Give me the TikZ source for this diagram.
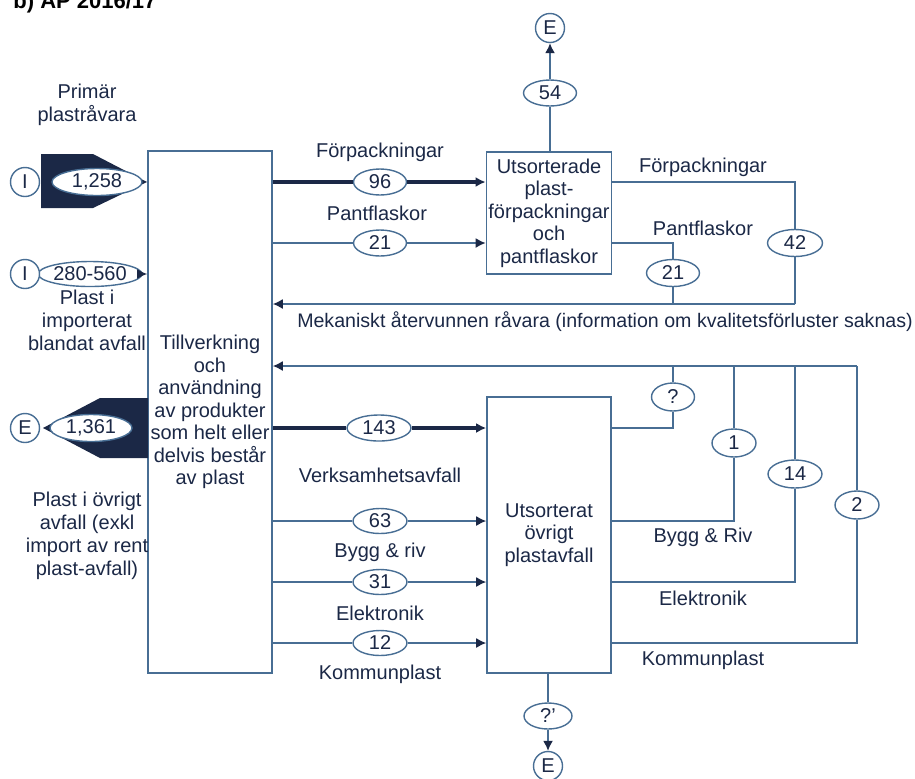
\documentclass[tikz,border=0pt]{standalone}
\usepackage{fontspec}
\setmainfont{Liberation Sans}
\usetikzlibrary{positioning,arrows.meta,calc,shapes.geometric}

\definecolor{navy}{RGB}{27,40,70}
\definecolor{steel}{RGB}{72,110,148}

\tikzset{
  box/.style={draw=steel,line width=0.8pt,minimum width=62pt,align=center,text=navy,
    inner sep=1pt,font=\fontsize{10}{11.25}\selectfont},
  val/.style={ellipse,draw=steel,line width=0.7pt,fill=white,inner sep=0pt,
    minimum height=13pt,minimum width=27pt,text=navy},
  term/.style={circle,draw=steel,line width=0.7pt,fill=white,inner sep=0pt,
    minimum size=14.5pt,text=navy},
  lbl/.style={text=navy,align=center,inner sep=0pt},
  flow/.style={draw=steel,line width=0.75pt},
  heavy/.style={draw=navy,line width=1.8pt},
  tip/.style={-{Latex[length=5pt,width=5pt,color=navy]}},
}

\begin{document}
\begin{tikzpicture}[x=0.5pt,y=-0.5pt,font=\fontsize{10}{11.5}\selectfont]
  \useasboundingbox (0,0) rectangle (915,778);
  \node[anchor=base west,inner sep=0pt,font=\bfseries\fontsize{11}{13}\selectfont] (title) at (13,8) {b) AP 2016/17};

  % processes
  \node[box,minimum height=261pt] (prod) at (210,412)
    {Tillverkning\\och\\användning\\av produkter\\som helt eller\\delvis består\\av plast};
  \node[box,minimum height=61pt] (pack) at (549,213)
    {Utsorterade\\plast-\\förpackningar\\och\\pantflaskor};
  \node[box,minimum height=138pt] (other) at (549,535)
    {Utsorterat\\övrigt\\plastavfall};

  % import and export on the left
  \fill[navy] (41,154) -- (93,154) -- (147,182) -- (93,208) -- (41,208) -- cycle;
  \node[val,minimum width=45pt,minimum height=13.5pt] (in1) at (97,182) {1,258};
  \node[term] (src1) at (25,182) {I};
  \node[lbl] (primlbl) at (87,105) {Primär\\plastråvara};

  \node[val,minimum width=50pt,minimum height=12.5pt] (in2) at (90,274) {280-560};
  \node[term] (src2) at (25,274) {I};
  \draw[flow,tip] (in2.east) -- (prod.west |- in2);
  \node[lbl] (implbl) at (87,320) {Plast i\\importerat\\blandat avfall};

  \fill[navy] (148,398) -- (100,398) -- (43,428) -- (100,458) -- (148,458) -- cycle;
  \node[val,minimum width=41pt,minimum height=13.5pt] (out1) at (91,428) {1,361};
  \node[term] (exp0) at (25,428) {E};
  \node[lbl] (explbl) at (87,536) {Plast i övrigt\\avfall (exkl\\import av rent\\plast-avfall)};

  % packaging flows
  \node[val,minimum width=26.5pt] (f96) at (380,182) {96};
  \node[lbl] at (380,152) {Förpackningar};
  \draw[heavy] (prod.east |- f96) -- (f96.west);
  \draw[heavy,tip] (f96.east) -- (pack.west |- f96);
  \node[val,minimum width=26.5pt] (f21) at (380,243) {21};
  \node[lbl] at (377,213) {Pantflaskor};
  \draw[flow] (prod.east |- f21) -- (f21.west);
  \draw[flow,tip] (f21.east) -- (pack.west |- f21);

  \node[val,minimum width=26.5pt] (f54) at (550,93) {54};
  \node[term] (exp1) at (550,28) {E};
  \draw[flow] (f54 |- pack.north) -- (f54.south);
  \draw[flow,tip] (f54.north) -- (exp1.south);

  % recycled packaging back to production
  \coordinate (mek) at (795,304);
  \node[val,minimum width=27.5pt,minimum height=13.5pt] (r42) at (795,243) {42};
  \node[val,minimum width=26.5pt,minimum height=13.5pt] (r21) at (673,273) {21};
  \draw[flow] (pack.east |- f96) -- (r42 |- f96) -- (r42.north);
  \draw[flow] (r42.south) -- (mek);
  \draw[flow] (pack.east |- f21) -- (r21 |- f21) -- (r21.north);
  \draw[flow] (r21.south) -- (r21 |- mek);
  \draw[flow,tip] (mek) -- (prod.east |- mek);
  \node[lbl] at (703,167) {Förpackningar};
  \node[lbl] at (703,228) {Pantflaskor};
  \node[lbl,font=\fontsize{9.8}{11.5}\selectfont] (meklbl) at (605,322)
    {Mekaniskt återvunnen råvara (information om kvalitetsförluster saknas)};

  % other plastic waste
  \node[val,minimum width=32pt] (f143) at (379,428) {143};
  \node[lbl] at (380,475) {Verksamhetsavfall};
  \draw[heavy] (prod.east |- f143) -- (f143.west);
  \draw[heavy,tip] (f143.east) -- (other.west |- f143);
  \foreach \y/\v/\t [count=\i] in {521/63/Bygg \& riv,582/31/Elektronik,643/12/Kommunplast}{
    \node[val,minimum height=12.5pt] (w\i) at (380,\y) {\v};
    \node[lbl] at (380,\y+31) {\t};
    \draw[flow] (prod.east |- w\i) -- (w\i.west);
    \draw[flow,tip] (w\i.east) -- (other.west |- w\i);
  }

  % recycled other plastic back to production
  \coordinate (ret) at (857,366);
  \draw[flow,tip] (ret) -- (prod.east |- ret);
  \node[val,minimum width=21.5pt,minimum height=14pt] (rq) at (673,397) {?};
  \node[val,minimum width=22pt,minimum height=14pt] (r1) at (734,443) {1};
  \node[val,minimum width=27pt,minimum height=14pt] (r14) at (795,474) {14};
  \node[val,minimum width=22pt,minimum height=14pt] (r2) at (857,505) {2};
  \draw[flow] (other.east |- f143) -- (rq |- f143) -- (rq.south);
  \draw[flow] (other.east |- w1) -- (r1 |- w1) -- (r1.south);
  \draw[flow] (other.east |- w2) -- (r14 |- w2) -- (r14.south);
  \draw[flow] (other.east |- w3) -- (r2 |- w3) -- (r2.south);
  \foreach \n in {rq,r1,r14}{
    \draw[flow] (\n.north) -- (\n |- ret);
  }
  \draw[flow] (r2.north) -- (ret);
  \node[lbl] at (703,537) {Bygg \& Riv};
  \node[lbl] at (703,598) {Elektronik};
  \node[lbl] at (703,660) {Kommunplast};

  \node[val,minimum width=24pt] (rq2) at (548,716) {?'};
  \node[term] (exp2) at (548,766) {E};
  \draw[flow] (rq2 |- other.south) -- (rq2.north);
  \draw[flow,tip] (rq2.south) -- (exp2.north);
\end{tikzpicture}
\end{document}
